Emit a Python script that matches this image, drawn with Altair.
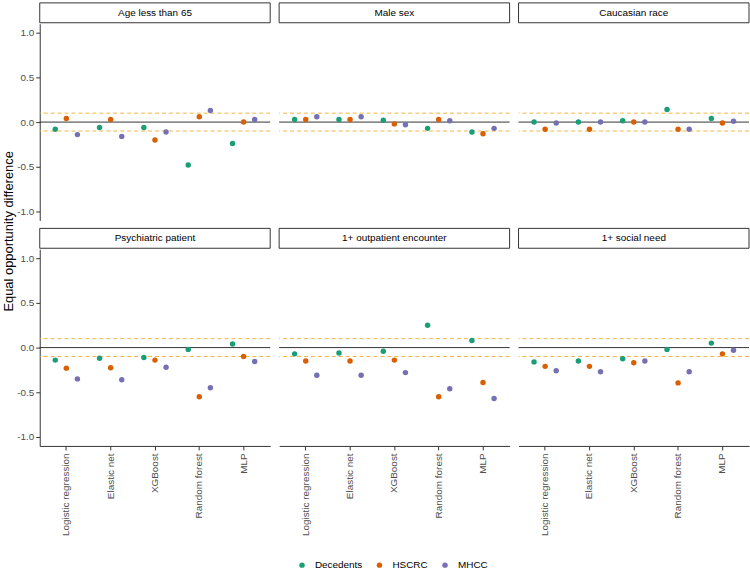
import altair as alt
import pandas as pd

FONT = "Liberation Sans"

models = ["Logistic regression", "Elastic net", "XGBoost", "Random forest", "MLP"]
groups = ["Age less than 65", "Male sex", "Caucasian race",
          "Psychiatric patient", "1+ outpatient encounter", "1+ social need"]
series = ["Decedents", "HSCRC", "MHCC"]
series_colors = ["#1B9E77", "#D95F02", "#7570B3"]

# Equal opportunity difference per subgroup, one value per model
decedents = {
    "Age less than 65": [-0.08, -0.06, -0.06, -0.48, -0.24],
    "Male sex": [0.03, 0.03, 0.02, -0.07, -0.11],
    "Caucasian race": [0.00, 0.00, 0.015, 0.14, 0.04],
    "Psychiatric patient": [-0.14, -0.12, -0.11, -0.02, 0.04],
    "1+ outpatient encounter": [-0.07, -0.06, -0.04, 0.25, 0.08],
    "1+ social need": [-0.16, -0.15, -0.125, -0.02, 0.05],
}
hscrc = {
    "Age less than 65": [0.04, 0.03, -0.20, 0.06, 0.00],
    "Male sex": [0.03, 0.03, -0.02, 0.03, -0.13],
    "Caucasian race": [-0.08, -0.08, 0.00, -0.08, -0.01],
    "Psychiatric patient": [-0.23, -0.225, -0.14, -0.55, -0.10],
    "1+ outpatient encounter": [-0.15, -0.15, -0.14, -0.55, -0.39],
    "1+ social need": [-0.21, -0.21, -0.17, -0.395, -0.07],
}
mhcc = {
    "Age less than 65": [-0.14, -0.16, -0.11, 0.13, 0.03],
    "Male sex": [0.06, 0.06, -0.03, 0.015, -0.07],
    "Caucasian race": [-0.01, 0.00, 0.00, -0.08, 0.01],
    "Psychiatric patient": [-0.35, -0.36, -0.22, -0.45, -0.155],
    "1+ outpatient encounter": [-0.31, -0.31, -0.28, -0.46, -0.57],
    "1+ social need": [-0.26, -0.27, -0.15, -0.27, -0.03],
}
fairness_band = [-0.1, 0.1]
zero_line = [0.0]
y_ticks = [-1.0, -0.5, 0.0, 0.5, 1.0]
y_title = "Equal opportunity difference"

rows = []
for name, table in zip(series, [decedents, hscrc, mhcc]):
    for g in groups:
        for m, v in zip(models, table[g]):
            rows.append({"group": g, "model": m, "series": name, "value": v})
df = pd.DataFrame(rows)
band_df = pd.DataFrame({"value": fairness_band})
zero_df = pd.DataFrame({"value": zero_line})

PW, PH, SH = 232, 198, 20
ROW_GAP = 8
STEP = PW / 5.2                      # band step with 0.1 outer padding
DODGE = 0.5 * STEP                   # dodge width of half a band
BAND_COLOR = "#F2B544"
y_scale = alt.Scale(domain=[-1.1, 1.1], nice=False, zero=False)
label_expr = "replace(format(datum.value, '.1f'), '\u2212', '-')"


def y_axis_for(i):
    if i % 3 != 0:
        return None
    return alt.Axis(values=y_ticks, labelExpr=label_expr, grid=False, title=None,
                    domainColor="#333333", tickColor="#333333", labelColor="#4D4D4D",
                    tickSize=4, labelPadding=2, labelFontSize=10, labelFont=FONT)


def x_axis_for(i):
    if i < 3:
        return None
    return alt.Axis(title=None, labelAngle=270, labelAlign="right",
                    labelBaseline="middle", grid=False, domainColor="#333333",
                    tickColor="#333333", labelColor="#4D4D4D", tickSize=4,
                    labelPadding=3, labelFontSize=10, labelFont=FONT)


legend = alt.Legend(orient="none", legendX=296, legendY=561, direction="horizontal",
                    title=None, symbolType="circle", symbolSize=30,
                    symbolStrokeWidth=0, labelFontSize=10, labelFont=FONT,
                    labelColor="black", columnPadding=12, labelOffset=8)


def panel(i, g):
    y_enc = alt.Y("value:Q", scale=y_scale, axis=y_axis_for(i))
    band = alt.Chart(band_df).mark_rule(
        color=BAND_COLOR, stroke=BAND_COLOR, strokeDash=[4, 3], strokeWidth=1,
        opacity=1).encode(y=y_enc)
    zero = alt.Chart(zero_df).mark_rule(color="#333333", strokeWidth=1).encode(y=y_enc)
    pts = alt.Chart(df).transform_filter(alt.datum.group == g).mark_circle(
        size=30, opacity=1).encode(
        x=alt.X("model:N", sort=models,
                scale=alt.Scale(paddingInner=0, paddingOuter=0.1),
                axis=x_axis_for(i)),
        xOffset=alt.XOffset("series:N", sort=series,
                            scale=alt.Scale(paddingInner=0, paddingOuter=0,
                                            range=[(STEP - DODGE) / 2,
                                                   (STEP + DODGE) / 2])),
        y=y_enc,
        color=alt.Color("series:N", sort=series,
                        scale=alt.Scale(domain=series, range=series_colors),
                        legend=legend),
    )
    plot = alt.layer(band, zero, pts).properties(width=PW, height=PH)

    base = alt.Chart(pd.DataFrame({"label": [g]}))
    box = base.mark_rect(fill="white", stroke="#333333", strokeWidth=1).encode(
        x=alt.value(0), x2=alt.value(PW), y=alt.value(0), y2=alt.value(SH))
    txt = base.mark_text(font=FONT, fontSize=10, color="black").encode(
        x=alt.value(PW / 2), y=alt.value(SH / 2), text="label:N")
    strip = alt.layer(box, txt).properties(width=PW, height=SH)
    return alt.vconcat(strip, plot, spacing=0)


panels = [panel(i, g) for i, g in enumerate(groups)]
row1 = alt.hconcat(*panels[:3], spacing=7)
row2 = alt.hconcat(*panels[3:], spacing=7)
grid = alt.vconcat(row1, row2, spacing=ROW_GAP - 1)

# Shared y-axis title centred on the two rows of panels
grid_h = 2 * (SH + PH) + ROW_GAP
title = alt.Chart(pd.DataFrame({"t": [y_title]})).mark_text(
    angle=270, font=FONT, fontSize=13, color="black", baseline="middle"
).encode(text="t:N", x=alt.value(6), y=alt.value(grid_h / 2 + 8)).properties(
    width=11, height=grid_h)

chart = alt.hconcat(title, grid, spacing=0).resolve_scale(
    color="shared"
).properties(
    padding={"left": 2, "top": 0, "right": 0, "bottom": 0}
).configure(font=FONT).configure_view(stroke=None)

chart.save("out.html", embed_options={"renderer": "svg", "actions": False})
